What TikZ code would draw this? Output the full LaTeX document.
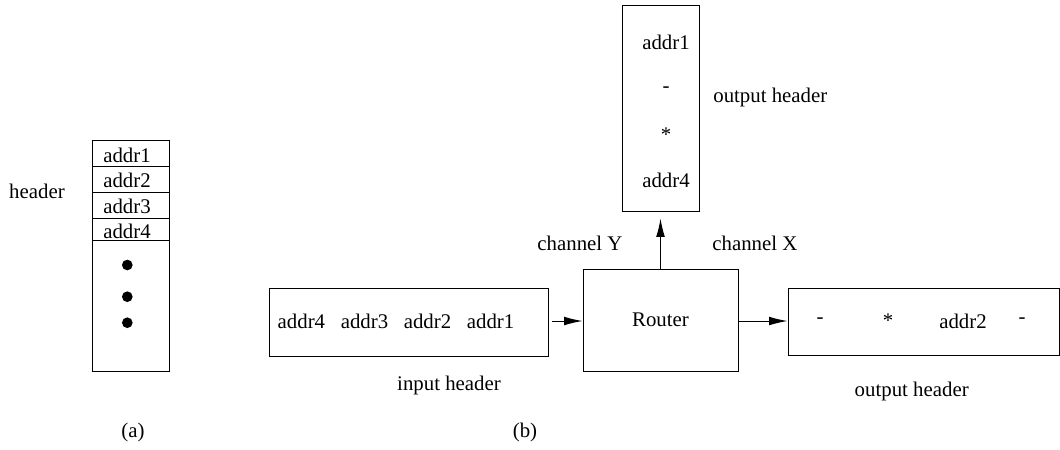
\documentclass[tikz,border=0pt]{standalone}
\usepackage{fontspec}
\setmainfont{Liberation Serif}
\usetikzlibrary{arrows.meta}
\begin{document}
\begin{tikzpicture}[x=0.6pt,y=-0.6pt,
  every node/.style={font=\fontsize{12.5}{15}\selectfont, inner sep=0pt},
  box/.style={draw, line width=0.6pt},
  dotmark/.style={circle, fill=black, minimum size=6.4pt, inner sep=0pt},
  arr/.style={line width=0.6pt, -{Latex[length=11pt,width=5.2pt]}}]
\useasboundingbox (0,0) rectangle (1060,449);
% (a) stack
\node[box, minimum width=46.2pt, minimum height=15.6pt] (c1) at (130.5,153) {};
\node[box, minimum width=46.2pt, minimum height=15.6pt] (c2) at (130.5,179) {};
\node[box, minimum width=46.2pt, minimum height=15.6pt] (c3) at (130.5,205) {};
\node[box, minimum width=46.2pt, minimum height=13.2pt] (c4) at (130.5,229) {};
\node[box, minimum width=46.2pt, minimum height=78.6pt] (c5) at (130.5,305.5) {};
\node (t1) at (127,155) {addr1};
\node (t2) at (127,180.5) {addr2};
\node (t3) at (127,206) {addr3};
\node (t4) at (127,231.5) {addr4};
\node[dotmark] (d1) at (127.3,265) {};
\node[dotmark] (d2) at (127.3,296.7) {};
\node[dotmark] (d3) at (127.3,322.7) {};
\node (hdr) at (37,191) {header};
\node (la) at (133,432) {(a)};
% (b)
\node[box, minimum width=167.4pt, minimum height=40.8pt] (in) at (408.5,322) {};
\node (intext) at (396,321) {addr4\hspace{0.75em}addr3\hspace{0.75em}addr2\hspace{0.75em}addr1};
\node (inlab) at (449,385) {input header};
\node[box, minimum width=93pt, minimum height=61.2pt] (router) at (660.5,320) {Router};
\node[box, minimum width=46.2pt, minimum height=123.6pt] (top) at (660.5,108) {};
\node (o1) at (666,42.7) {addr1};
\node (o2) at (666,90) {-};
\node (o3) at (666,135) {*};
\node (o4) at (666,180) {addr4};
\node[anchor=west] (toplab) at (713,97) {output header};
\node (chy) at (580,243) {channel Y};
\node[anchor=west] (chx) at (712,243) {channel X};
\node[box, minimum width=162.6pt, minimum height=40.2pt] (out) at (923.5,321.5) {};
\node (r1) at (820,321) {-};
\node (r2) at (888,321) {*};
\node (r3) at (963,321) {addr2};
\node (r4) at (1022,321) {-};
\node (outlab) at (911.7,391.7) {output header};
\node (lb) at (525,432) {(b)};
\coordinate (instart) at (551.5,321);
\coordinate (outstart) at (738,321);
\draw[arr] (router.north) -- ([yshift=-4.2pt]top.south);
\draw[arr] (instart) -- (router.west |- instart);
\draw[arr] (outstart) -- (out.west |- outstart);
\end{tikzpicture}
\end{document}
